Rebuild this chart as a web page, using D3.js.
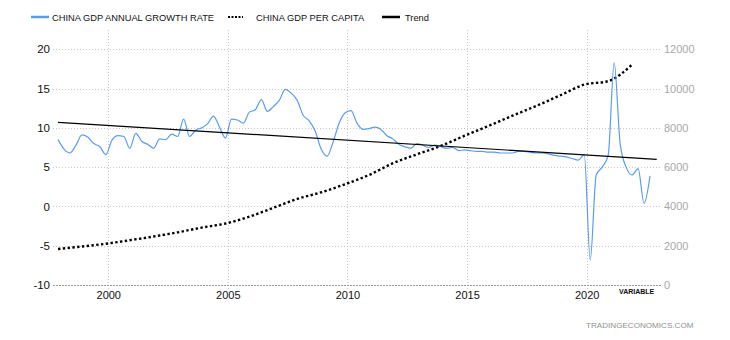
<!DOCTYPE html>
<html>
<head>
<meta charset="utf-8">
<script src="https://cdn.jsdelivr.net/npm/d3@7"></script>
<style>
  html, body { margin: 0; padding: 0; background: #fff; }
  svg { display: block; font-family: "Liberation Sans", Arial, sans-serif; }
</style>
</head>
<body>
<svg id="chart" width="730" height="340"></svg>
<script>
// China GDP annual growth rate (%), quarterly, 1997 Q4 .. 2022 Q3
const growthFirstYear = 1997;
const growthFirstQuarter = 4;
const growthRate = [
  8.5,
  7.3, 6.8, 7.8, 9.1,
  8.8, 8.0, 7.6, 6.6,
  8.4, 9.0, 8.9, 7.4,
  9.3, 8.3, 7.9, 7.4,
  8.6, 8.5, 9.2, 8.9,
  11.1, 8.9, 9.7, 10.0,
  10.5, 11.5, 10.1, 8.7,
  11.1, 11.0, 10.6, 12.0,
  12.3, 13.6, 12.1, 12.7,
  13.5, 14.9, 14.4, 13.5,
  11.6, 10.9, 9.6, 7.3,
  6.4, 8.2, 10.6, 11.9,
  12.2, 10.6, 9.8, 9.9,
  10.1, 9.8, 9.0, 8.6,
  7.9, 7.6, 7.4, 8.0,
  7.8, 7.5, 7.8, 7.6,
  7.4, 7.5, 7.1, 7.2,
  7.1, 7.0, 7.0, 6.9,
  6.9, 6.8, 6.8, 6.8,
  7.0, 7.0, 6.9, 6.8,
  6.8, 6.7, 6.5, 6.4,
  6.3, 6.1, 5.9, 6.6,
  -6.8, 4.0, 5.0, 6.5,
  18.3, 8.0, 5.0, 4.0,
  4.8, 0.4, 3.9
];

// China GDP per capita (USD), annual
const perCapitaYears = [1997, 1998, 1999, 2000, 2001, 2002, 2003, 2004, 2005, 2006,
  2007, 2008, 2009, 2010, 2011, 2012, 2013, 2014, 2015, 2016, 2017, 2018, 2019, 2020, 2021];
const perCapita = [1833, 1960, 2100, 2280, 2470, 2680, 2920, 3130, 3480, 3930,
  4380, 4720, 5130, 5600, 6200, 6650, 7080, 7600, 8100, 8620, 9120, 9660, 10200, 10380, 11220];

// Linear trend of the growth rate (start and end points)
const trendYears = [1997.9, 2022.93];
const trendValues = [10.7, 6.0];

const leftTicks = [-10, -5, 0, 5, 10, 15, 20];
const rightTicks = [0, 2000, 4000, 6000, 8000, 10000, 12000];
const yearTicks = [2000, 2005, 2010, 2015, 2020];

const legendItems = [
  { label: "CHINA GDP ANNUAL GROWTH RATE", kind: "growth", x: 31 },
  { label: "CHINA GDP PER CAPITA", kind: "capita", x: 228 },
  { label: "Trend", kind: "trend", x: 382 }
];

const BLUE = "#5a9cf2";

// quarterly observations sit inside each year; annual ones near year end
const quarterTime = (i) => {
  const n = (growthFirstQuarter - 1) + i;
  const year = growthFirstYear + Math.floor(n / 4);
  const q = n % 4;
  return year + 0.15 + 0.25 * q;
};
const growthData = growthRate.map((v, i) => ({ t: quarterTime(i), v }));
const capitaData = perCapitaYears.map((y, i) => ({ t: y + 0.9, v: perCapita[i] }));
const trendData = trendYears.map((t, i) => ({ t, v: trendValues[i] }));

const svg = d3.select("#chart");

const plotLeft = 53, plotRight = 662, plotTop = 49.3, plotBottom = 285;
const x = d3.scaleLinear().domain([1997.69, 2023.15]).range([plotLeft, plotRight]);
const yL = d3.scaleLinear().domain([-10, 20]).range([plotBottom, plotTop]);
const yR = d3.scaleLinear().domain([0, 12000]).range([plotBottom, plotTop]);

// grid
const grid = svg.append("g");
grid.selectAll("line.h").data(leftTicks.filter(d => d !== -10)).join("line")
  .attr("x1", plotLeft).attr("x2", plotRight)
  .attr("y1", d => Math.round(yL(d)) + 0.5).attr("y2", d => Math.round(yL(d)) + 0.5)
  .attr("stroke", "#c6c6c6").attr("stroke-dasharray", "1,2");
grid.selectAll("line.v").data(yearTicks).join("line")
  .attr("x1", d => Math.round(x(d)) + 0.5).attr("x2", d => Math.round(x(d)) + 0.5)
  .attr("y1", 30).attr("y2", 290)
  .attr("stroke", "#c6c6c6").attr("stroke-dasharray", "1,2");
grid.append("line")
  .attr("x1", plotLeft).attr("x2", plotRight)
  .attr("y1", Math.round(plotBottom) + 0.5).attr("y2", Math.round(plotBottom) + 0.5)
  .attr("stroke", "#9a9a9a").attr("stroke-dasharray", "2,1");

// axes (labels only)
const axisL = svg.append("g").attr("transform", `translate(${plotLeft - 3},0)`)
  .call(d3.axisLeft(yL).tickValues(leftTicks).tickSize(0).tickPadding(0).tickFormat(d => String(d)));
axisL.select(".domain").remove();
axisL.selectAll("text").attr("fill", "#111").style("font-size", "11.5px")
  .style("font-family", "Liberation Sans, Arial, sans-serif");

const axisR = svg.append("g").attr("transform", `translate(${plotRight + 2},0)`)
  .call(d3.axisRight(yR).tickValues(rightTicks).tickSize(0).tickPadding(0).tickFormat(d => String(d)));
axisR.select(".domain").remove();
axisR.selectAll("text").attr("fill", "#a8a8a8").style("font-size", "11px")
  .style("font-family", "Liberation Sans, Arial, sans-serif");

const axisB = svg.append("g").attr("transform", `translate(0,${plotBottom})`)
  .call(d3.axisBottom(x).tickValues(yearTicks).tickSize(0).tickPadding(6).tickFormat(d => String(d)));
axisB.select(".domain").remove();
axisB.selectAll("text").attr("fill", "#111").style("font-size", "11px")
  .style("font-family", "Liberation Sans, Arial, sans-serif");

// series
const lineL = d3.line().x(d => x(d.t)).y(d => yL(d.v)).curve(d3.curveMonotoneX);
const lineR = d3.line().x(d => x(d.t)).y(d => yR(d.v)).curve(d3.curveMonotoneX);

svg.append("path").datum(capitaData).attr("d", lineR)
  .attr("fill", "none").attr("stroke", "#000").attr("stroke-width", 2.4)
  .attr("stroke-dasharray", "2.4,2.4");

svg.append("path").datum(growthData).attr("d", lineL)
  .attr("fill", "none").attr("stroke", BLUE).attr("stroke-width", 1.2);

svg.append("path").datum(trendData).attr("d", d3.line().x(d => x(d.t)).y(d => yL(d.v)))
  .attr("fill", "none").attr("stroke", "#000").attr("stroke-width", 1.2);

// legend
const lg = svg.append("g");
legendItems.forEach(item => {
  const g = lg.append("g").attr("transform", `translate(${item.x},17)`);
  const ln = g.append("line").attr("x1", 0).attr("x2", 18).attr("y1", 0).attr("y2", 0);
  if (item.kind === "growth") ln.attr("stroke", BLUE).attr("stroke-width", 2.5);
  if (item.kind === "capita") ln.attr("x2", 15).attr("stroke", "#000").attr("stroke-width", 2).attr("stroke-dasharray", "2,1.5");
  if (item.kind === "trend") ln.attr("stroke", "#000").attr("stroke-width", 2.5);
  g.append("text").attr("x", item.kind === "capita" ? 28 : (item.kind === "trend" ? 23 : 21)).attr("y", 3.5)
    .attr("fill", "#111").style("font-size", "9.3px").text(item.label);
});

// footer texts
svg.append("text").attr("x", 619).attr("y", 294).attr("fill", "#111")
  .style("font-size", "7px").style("font-weight", "bold").text("VARIABLE");
svg.append("text").attr("x", 586).attr("y", 328).attr("fill", "#8f8f8f")
  .style("font-size", "8.1px").text("TRADINGECONOMICS.COM");
</script>
</body>
</html>
